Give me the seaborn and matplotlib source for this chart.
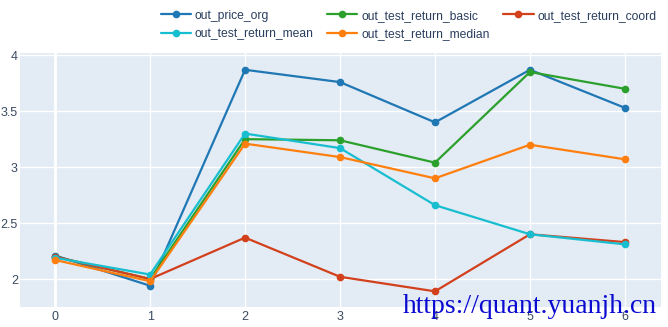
import matplotlib
matplotlib.use("Agg")
import matplotlib.pyplot as plt
import seaborn as sns
import pandas as pd
import numpy as np

x_vals = [0, 1, 2, 3, 4, 5, 6]
out_price_org = [2.21, 1.94, 3.87, 3.76, 3.40, 3.87, 3.53]
out_test_return_basic = [2.20, 2.00, 3.25, 3.24, 3.04, 3.85, 3.70]
out_test_return_coord = [2.20, 2.00, 2.37, 2.02, 1.89, 2.40, 2.33]
out_test_return_mean = [2.19, 2.04, 3.30, 3.17, 2.66, 2.40, 2.31]
out_test_return_median = [2.17, 1.98, 3.21, 3.09, 2.90, 3.20, 3.07]
series_names = ["out_price_org", "out_test_return_basic", "out_test_return_coord",
                "out_test_return_mean", "out_test_return_median"]
series_vals = [out_price_org, out_test_return_basic, out_test_return_coord,
               out_test_return_mean, out_test_return_median]
colors = ["#1f77b4", "#2ca02c", "#d2401c", "#17becf", "#ff7f0e"]
y_ticks = [2, 2.5, 3, 3.5, 4]
y_tick_labels = ["2", "2.5", "3", "3.5", "4"]
watermark = "https://quant.yuanjh.cn"

rows = []
for name, vals in zip(series_names, series_vals):
    for xv, yv in zip(x_vals, vals):
        rows.append({"x": xv, "value": yv, "series": name})
df = pd.DataFrame(rows)

sns.set_theme(style="white")
plt.rcParams["font.family"] = ["Liberation Sans", "DejaVu Sans"]

fig = plt.figure(figsize=(6.68, 3.27), dpi=100)
ax = fig.add_axes([20/668, 1-307/327, 641/668, 254/327])
ax.set_facecolor("#e3ebf5")

sns.lineplot(data=df, x="x", y="value", hue="series", hue_order=series_names,
             palette=colors, marker="o", markersize=5.5, markeredgewidth=0,
             linewidth=1.6, ax=ax, legend=True)

ax.set_xlim(-0.37, 6.38)
ax.set_ylim(1.75, 4.02)
ax.set_xticks(x_vals)
ax.set_yticks(y_ticks)
ax.set_yticklabels(y_tick_labels)
ax.grid(True, color="white", linewidth=1)
ax.axvline(0, color="white", linewidth=2, zorder=0.5)
ax.set_axisbelow(True)
for s in ax.spines.values():
    s.set_visible(False)
ax.tick_params(axis="y", length=0, labelsize=9, colors="#3a4a60", pad=1.5)
ax.tick_params(axis="x", length=0, labelsize=9, colors="#3a4a60", pad=3)
ax.set_xlabel("")
ax.set_ylabel("")

handles, labels = ax.get_legend_handles_labels()
ax.get_legend().remove()
order = [0, 3, 1, 4, 2]
fig.legend([handles[i] for i in order], [labels[i] for i in order],
           ncol=3, loc="upper left", bbox_to_anchor=(151/668, 1.0),
           frameon=False, fontsize=8.7, handlelength=2.5, handletextpad=0.3,
           columnspacing=1.15, labelspacing=0.55, labelcolor="#2a3f5f",
           borderaxespad=0.4)

fig.text(403/668, 1-313/327, watermark, family=["Liberation Serif", "DejaVu Serif"],
         fontsize=20, color="#0a0ad0", ha="left", va="baseline")

fig.savefig("out.png", dpi=100, facecolor="white")
